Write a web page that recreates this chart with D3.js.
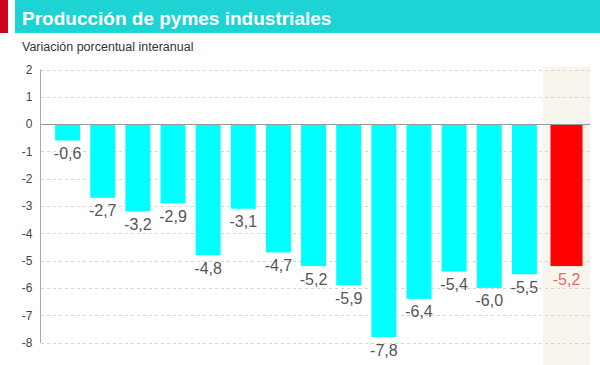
<!DOCTYPE html>
<html><head><meta charset="utf-8">
<script src="https://cdn.jsdelivr.net/npm/d3@7"></script>
<style>body{margin:0;background:#fff}svg{display:block}</style>
</head><body>
<svg id="c" width="600" height="365"></svg>
<script>
const title = "Producción de pymes industriales";
const subtitle = "Variación porcentual interanual";
const categories = ["c1","c2","c3","c4","c5","c6","c7","c8","c9","c10","c11","c12","c13","c14"];
const values = [-0.6,-2.7,-3.2,-2.9,-4.8,-3.1,-4.7,-5.2,-5.9,-7.8,-6.4,-5.4,-6.0,-5.5];
const highlightCategory = ["c15"];
const highlightValue = [-5.2];
const yTicks = [2,1,0,-1,-2,-3,-4,-5,-6,-7,-8];

const svg = d3.select("#c");
const fmt = v => d3.format(".1f")(v).replace(".", ",").replace("−","-");

// header
svg.append("rect").attr("x",0).attr("y",0).attr("width",8).attr("height",33).attr("fill","#d0021b");
svg.append("rect").attr("x",15).attr("y",0).attr("width",585).attr("height",33).attr("fill","#1ed3d4");
svg.append("text").attr("x",22).attr("y",25).text(title)
  .attr("font-family","Liberation Sans, Arial, sans-serif").attr("font-weight","bold")
  .attr("font-size",19).attr("fill","#fff");
svg.append("text").attr("x",22).attr("y",51).text(subtitle)
  .attr("font-family","Liberation Sans, Arial, sans-serif")
  .attr("font-size",12.5).attr("fill","#333");

const y = d3.scaleLinear().domain([-8,2]).range([342.5,69.5]);
const x = d3.scaleBand().domain(categories).range([50,542]).paddingInner(0.289).paddingOuter(0.145);
const xh = d3.scaleBand().domain(highlightCategory).range([543,590]).paddingInner(0).paddingOuter(0.234);

// highlight band
svg.append("rect").attr("x",543).attr("y",67).attr("width",47).attr("height",298).attr("fill","#f8f6ec");

// grid
svg.append("g").selectAll("line").data(yTicks.filter(d=>d!==0)).join("line")
  .attr("x1",41).attr("x2",590).attr("y1",d=>Math.round(y(d))+0.5).attr("y2",d=>Math.round(y(d))+0.5)
  .attr("stroke","#d4d4d4").attr("stroke-width",1).attr("stroke-dasharray","3,3");

// y axis
const ax = svg.append("g").attr("transform","translate(40.5,0)")
  .call(d3.axisLeft(y).tickValues(yTicks).tickSize(0).tickPadding(8).tickFormat(d=>String(d)));
ax.select(".domain").attr("stroke","#aaa").attr("d",`M0,${y(2)}V${y(-8)+0.5}`);
ax.selectAll("text").attr("font-family","Liberation Sans, Arial, sans-serif").attr("font-size",12).attr("fill","#444");

// bars
svg.append("g").selectAll("rect").data(categories).join("rect")
  .attr("x",d=>x(d)).attr("width",x.bandwidth())
  .attr("y",y(0)).attr("height",(d,i)=>y(values[i])-y(0)).attr("fill","#00ffff");
svg.append("g").selectAll("rect").data(highlightCategory).join("rect")
  .attr("x",d=>xh(d)).attr("width",xh.bandwidth())
  .attr("y",y(0)).attr("height",(d,i)=>y(highlightValue[i])-y(0)).attr("fill","#ff0000");

// zero line
svg.append("line").attr("x1",40).attr("x2",590).attr("y1",Math.round(y(0))+0.5).attr("y2",Math.round(y(0))+0.5)
  .attr("stroke","#999").attr("stroke-width",1);

// labels
svg.append("g").selectAll("text").data(categories).join("text")
  .attr("x",d=>x(d)+x.bandwidth()/2).attr("y",(d,i)=>y(values[i])+18.5)
  .attr("text-anchor","middle").text((d,i)=>fmt(values[i]))
  .attr("font-family","Liberation Sans, Arial, sans-serif").attr("font-size",16).attr("fill","#555");
svg.append("g").selectAll("text").data(highlightCategory).join("text")
  .attr("x",d=>xh(d)+xh.bandwidth()/2).attr("y",(d,i)=>y(highlightValue[i])+18.5)
  .attr("text-anchor","middle").text((d,i)=>fmt(highlightValue[i]))
  .attr("font-family","Liberation Sans, Arial, sans-serif").attr("font-size",16).attr("fill","#e46a6a");
</script>
</body></html>
